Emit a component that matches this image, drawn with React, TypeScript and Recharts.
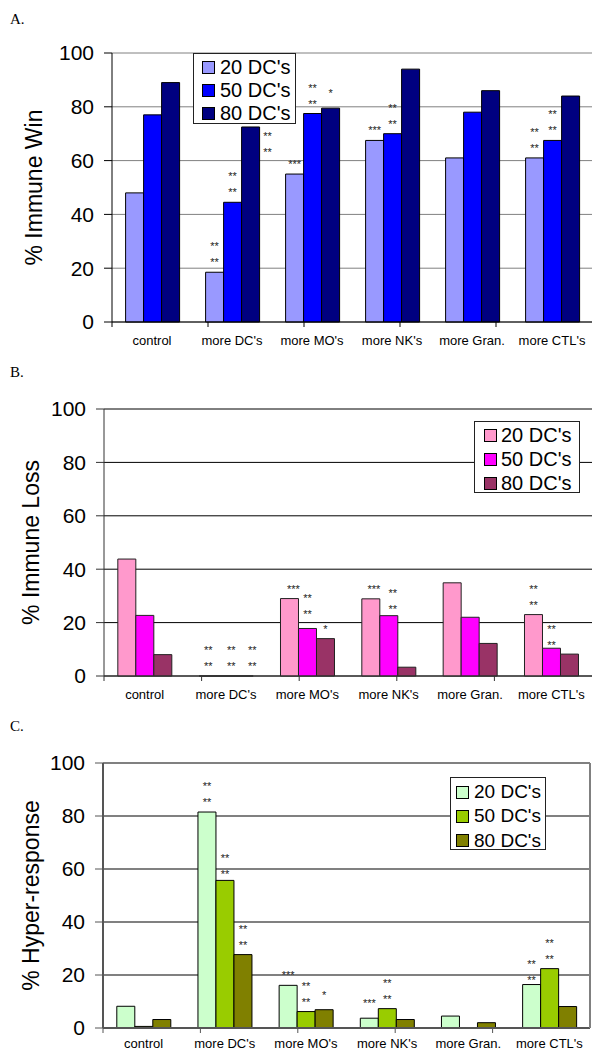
import React from 'react';
import { BarChart, Bar, XAxis, YAxis, CartesianGrid, Legend, LabelList } from 'recharts';

const categories = ['control', "more DC's", "more MO's", "more NK's", 'more Gran.', "more CTL's"];
const seriesNames = ["20 DC's", "50 DC's", "80 DC's"];
const yTicks = [0, 20, 40, 60, 80, 100];

// A. % Immune Win
const winDC20 = [48, 18.5, 55, 67.5, 61, 61];
const winDC50 = [77, 44.5, 77.5, 70, 78, 67.5];
const winDC80 = [89, 72.5, 79.5, 94, 86, 84];
const winStars20 = ['', '**\n**', '***', '***', '', '**\n**'];
const winStars50 = ['', '**\n**', '**\n**', '**\n**', '', '**\n**'];
const winStars80 = ['', '**\n**', '*', '', '', ''];

// B. % Immune Loss
const lossDC20 = [43.8, 0, 29, 28.9, 34.9, 23];
const lossDC50 = [22.7, 0, 17.8, 22.6, 22, 10.4];
const lossDC80 = [8, 0, 14, 3.3, 12.2, 8.2];
const lossStars20 = ['', '**\n**', '***', '***', '', '**\n**'];
const lossStars50 = ['', '**\n**', '**\n**', '**\n**', '', '**\n**'];
const lossStars80 = ['', '**\n**', '*', '', '', ''];

// C. % Hyper-response
const hyperDC20 = [8.2, 81.5, 16.1, 3.7, 4.5, 16.4];
const hyperDC50 = [0.6, 55.7, 6.2, 7.3, 0, 22.4];
const hyperDC80 = [3.2, 27.7, 6.9, 3.2, 2, 8.1];
const hyperStars20 = ['', '**\n**', '***', '***', '', '**\n**'];
const hyperStars50 = ['', '**\n**', '**\n**', '**\n**', '', '**\n**'];
const hyperStars80 = ['', '**\n**', '*', '', '', ''];

const FONT = 'Arial, "Liberation Sans", Helvetica, sans-serif';
const EDGE_H = 6;
const CAT_H = 22;
const TOP_M = 13;

// small hand nudges for star marks that sit off-centre in the original
const starNudge: Record<string, { dx?: number; dy?: number }> = {
  'A2-1': { dx: 17, dy: 35 },
  'A2-2': { dy: -5 },
  'B1-1': { dx: 5 },
  'B2-1': { dx: 8 },
  'B0-2': { dx: 4 },
  'B1-2': { dy: -4 },
  'B0-3': { dx: 3 },
  'B1-3': { dx: 4, dy: 3 },
  'B1-5': { dy: 7 },
  'C1-1': { dy: 4 },
  'C2-2': { dy: -5 },
  'C0-3': { dy: -5 },
  'C0-5': { dy: 5 },
};

const buildRows = (v: number[][], s: string[][]) =>
  categories.map((cat, i) => ({
    cat,
    v0: v[0][i], v1: v[1][i], v2: v[2][i],
    s0: s[0][i], s1: s[1][i], s2: s[2][i],
  }));

const panels = [
  {
    id: 'A', letterTop: 12, top: 40, plotH: 269, plotLeft: 112, right: 0, catMargin: 8,
    yLabel: '% Immune Win', yLabelX: 34,
    rows: buildRows([winDC20, winDC50, winDC80], [winStars20, winStars50, winStars80]),
    colors: ['#9999ff', '#0000ff', '#000080'],
    barStroke: '#000', grid: '#808080', gridW: 1, axis: '#000', axisW: 1, border: false,
    legend: { left: 193, top: 13, w: 103, h: 71, padL: 8, padT: 2, rowH: 23, gap: 5, font: 20 },
  },
  {
    id: 'B', letterTop: 365, top: 396, plotH: 267, plotLeft: 104, right: 0, catMargin: 8,
    yLabel: '% Immune Loss', yLabelX: 31,
    rows: buildRows([lossDC20, lossDC50, lossDC80], [lossStars20, lossStars50, lossStars80]),
    colors: ['#ff99cc', '#ff00ff', '#993366'],
    barStroke: '#222', grid: '#000', gridW: 1, axis: '#333', axisW: 1, border: false,
    legend: { left: 474, top: 25, w: 106, h: 72, padL: 9, padT: 1, rowH: 24, gap: 4, font: 20 },
  },
  {
    id: 'C', letterTop: 719, top: 750, plotH: 265, plotLeft: 103, right: 0, catMargin: 5,
    yLabel: '% Hyper-response', yLabelX: 31,
    rows: buildRows([hyperDC20, hyperDC50, hyperDC80], [hyperStars20, hyperStars50, hyperStars80]),
    colors: ['#ccffcc', '#99cc00', '#808000'],
    barStroke: '#000', grid: '#808080', gridW: 2, axis: '#555', axisW: 2, border: true,
    legend: { left: 450, top: 27, w: 96, h: 73, padL: 5, padT: 2, rowH: 24.3, gap: 5, font: 19 },
  },
];

const edgeTicks = [...categories.map((_, i) => i), categories.length];

const makeStars = (panel: string, si: number) => (p: any) => {
  const text = p.value;
  if (!text) return null;
  const vb = p.viewBox ?? p;
  const x = Number(vb.x ?? p.x);
  const y = Number(vb.y ?? p.y);
  const w = Number(vb.width ?? p.width);
  const h = Number(vb.height ?? p.height ?? 0);
  const top = h < 0 ? y + h : y;
  const n = starNudge[`${panel}${si}-${p.index}`] || {};
  const lines = String(text).split('\n');
  const cx = x + w / 2 + (n.dx || 0);
  const low = top - 12 + (n.dy || 0);
  return (
    <g>
      {lines.map((s, i) => (
        <text key={i} x={cx} y={low - (lines.length - 1 - i) * 16 + 6} textAnchor="middle" fontSize={11} fill="#222" stroke="none" fontFamily={FONT}>
          {s}
        </text>
      ))}
    </g>
  );
};

function Panel({ cfg }: { cfg: any }) {
  const chartH = TOP_M + cfg.plotH + EDGE_H + CAT_H;
  const lg = cfg.legend;
  return (
    <>
      <div style={{ position: 'absolute', left: 10, top: cfg.letterTop, fontFamily: '"Liberation Serif", "Times New Roman", serif', fontSize: 15, lineHeight: '15px' }}>
        {cfg.id}.
      </div>
      <div style={{ position: 'absolute', left: 0, top: cfg.top }}>
        <BarChart
          width={592}
          height={chartH}
          data={cfg.rows}
          margin={{ top: TOP_M, right: cfg.right, bottom: 0, left: 0 }}
          barCategoryGap="17%"
          barGap={0}
        >
          <CartesianGrid xAxisId="labels" vertical={false} stroke={cfg.grid} strokeWidth={cfg.gridW} />
          <XAxis
            xAxisId="base"
            type="number"
            domain={[0, categories.length]}
            ticks={edgeTicks}
            allowDataOverflow
            height={EDGE_H}
            tickSize={5}
            tickFormatter={() => ''}
            axisLine={{ stroke: cfg.axis, strokeWidth: cfg.axisW }}
            tickLine={{ stroke: cfg.axis }}
          />
          <XAxis
            xAxisId="labels"
            dataKey="cat"
            height={CAT_H}
            axisLine={false}
            tickLine={false}
            tickSize={0}
            tickMargin={cfg.catMargin}
            interval={0}
            tick={{ fontSize: 13, fill: '#000', fontFamily: FONT }}
          />
          <YAxis
            width={cfg.plotLeft}
            domain={[0, 100]}
            ticks={yTicks}
            tickSize={8}
            tickMargin={10}
            axisLine={{ stroke: cfg.axis, strokeWidth: cfg.axisW }}
            tickLine={{ stroke: cfg.axis }}
            tick={{ fontSize: 21, fill: '#000', fontFamily: FONT }}
            label={{
              value: cfg.yLabel,
              content: (p: any) => {
                const vb = p.viewBox || { y: TOP_M, height: cfg.plotH };
                const cy = vb.y + vb.height / 2;
                return (
                  <text
                    x={cfg.yLabelX}
                    y={cy}
                    transform={`rotate(-90 ${cfg.yLabelX} ${cy})`}
                    textAnchor="middle"
                    dominantBaseline="central"
                    fontSize={23}
                    fontFamily={FONT}
                    fill="#000"
                  >
                    {cfg.yLabel}
                  </text>
                );
              },
            }}
          />
          {cfg.border && (
            <YAxis
              yAxisId="r"
              orientation="right"
              width={2}
              domain={[0, 100]}
              tick={false}
              tickLine={false}
              axisLine={{ stroke: cfg.grid, strokeWidth: 2 }}
            />
          )}
          <Legend
            layout="vertical"
            align="center"
            verticalAlign="middle"
            wrapperStyle={{ left: lg.left, top: lg.top, width: lg.w, height: lg.h }}
            content={() => (
              <div
                style={{
                  boxSizing: 'border-box',
                  width: lg.w,
                  height: lg.h,
                  border: '1px solid #222',
                  background: '#fff',
                  paddingLeft: lg.padL,
                  paddingTop: lg.padT,
                  fontFamily: FONT,
                  fontSize: lg.font,
                  color: '#000',
                }}
              >
                {seriesNames.map((name, i) => (
                  <div key={name} style={{ display: 'flex', alignItems: 'center', height: lg.rowH }}>
                    <span
                      style={{
                        display: 'inline-block',
                        boxSizing: 'border-box',
                        width: 13,
                        height: 13,
                        border: '1px solid #000',
                        background: cfg.colors[i],
                        marginRight: lg.gap,
                      }}
                    />
                    <span style={{ whiteSpace: 'nowrap' }}>{name}</span>
                  </div>
                ))}
              </div>
            )}
          />
          {[0, 1, 2].map((si) => (
            <Bar
              key={si}
              xAxisId="labels"
              dataKey={`v${si}`}
              name={seriesNames[si]}
              fill={cfg.colors[si]}
              stroke={cfg.barStroke}
              strokeWidth={1}
              // zero bars that carry star marks still need a rect for their label
              minPointSize={(_v: number, i: number) => (cfg.rows[i][`s${si}`] ? 0.01 : 0)}
              isAnimationActive={false}
            >
              <LabelList dataKey={`s${si}`} content={makeStars(cfg.id, si)} />
            </Bar>
          ))}
        </BarChart>
      </div>
    </>
  );
}

export default function App() {
  return (
    <div style={{ position: 'absolute', left: 0, top: 0, width: 592, height: 1051, overflow: 'hidden', background: '#fff' }}>
      {panels.map((cfg) => (
        <Panel key={cfg.id} cfg={cfg} />
      ))}
    </div>
  );
}
